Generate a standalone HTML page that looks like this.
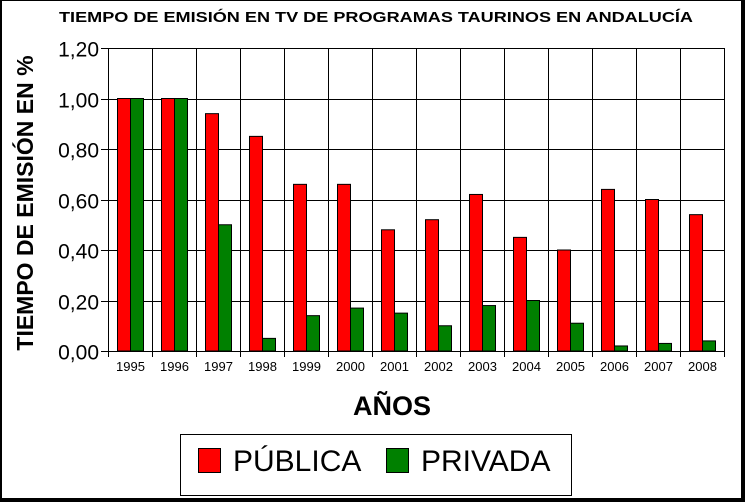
<!DOCTYPE html>
<html><head><meta charset="utf-8"><style>body{margin:0;background:#fff}svg{display:block}</style></head><body>
<svg width="745" height="502" xmlns="http://www.w3.org/2000/svg" font-family="Liberation Sans, Arial, sans-serif">
<rect x="0" y="0" width="745" height="502" fill="#fff"/>
<rect x="0" y="0" width="2" height="502" fill="#000"/>
<rect x="0" y="0" width="745" height="1" fill="#000"/>
<rect x="741" y="0" width="4" height="502" fill="#000"/>
<rect x="0" y="498" width="745" height="4" fill="#000"/>
<text x="376" y="22" text-anchor="middle" font-weight="bold" font-size="15" textLength="634" lengthAdjust="spacingAndGlyphs">TIEMPO DE EMISIÓN EN TV DE PROGRAMAS TAURINOS EN ANDALUCÍA</text>
<g id="plot"></g>
<text x="0" y="0" transform="translate(33,203) rotate(-90)" text-anchor="middle" font-weight="bold" font-size="23">TIEMPO DE EMISIÓN EN %</text>
<text x="392" y="415" text-anchor="middle" font-weight="bold" font-size="27">AÑOS</text>
<rect x="180.5" y="434.5" width="391" height="61" fill="#fff" stroke="#000"/>
<rect x="198.5" y="448.5" width="22" height="24" fill="#f00" stroke="#000"/>
<text x="233" y="471" font-size="30">PÚBLICA</text>
<rect x="386.5" y="448.5" width="22" height="24" fill="#008000" stroke="#000"/>
<text x="421" y="471" font-size="30">PRIVADA</text>
</svg>
<script>
var g=document.getElementById('plot'),s='';
var L=108.5,R=724.5,Y0=351,step=50.5;
var pub=[1,1,.94,.85,.66,.66,.48,.52,.62,.45,.40,.64,.60,.54];
var pri=[1,1,.50,.05,.14,.17,.15,.10,.18,.20,.11,.02,.03,.04];
for(var i=0;i<=6;i++){var y=Math.round(Y0-i*step)+.5;s+='<line x1="101" x2="'+R+'" y1="'+y+'" y2="'+y+'" stroke="#000"/>';
s+='<text x="99" y="'+(y+8)+'" text-anchor="end" font-size="21">'+(i*0.2).toFixed(2).replace('.',',')+'</text>';}
for(var i=0;i<=14;i++){var x=L+i*44;s+='<line x1="'+x+'" x2="'+x+'" y1="'+(Y0-6*step)+'" y2="357" stroke="#000"/>';}
for(var i=0;i<14;i++){var x=L+i*44;
var h=pub[i]*step*5;s+='<rect x="'+(x+9)+'" y="'+(Y0-h)+'" width="13" height="'+h+'" fill="#f00" stroke="#000"/>';
h=pri[i]*step*5;s+='<rect x="'+(x+22)+'" y="'+(Y0-h)+'" width="13" height="'+h+'" fill="#008000" stroke="#000"/>';
s+='<text x="'+(x+22)+'" y="371" text-anchor="middle" font-size="13">'+(1995+i)+'</text>';}
s+='<line x1="'+L+'" x2="'+R+'" y1="351.5" y2="351.5" stroke="#000"/>';
g.innerHTML=s;
</script>
</body></html>
